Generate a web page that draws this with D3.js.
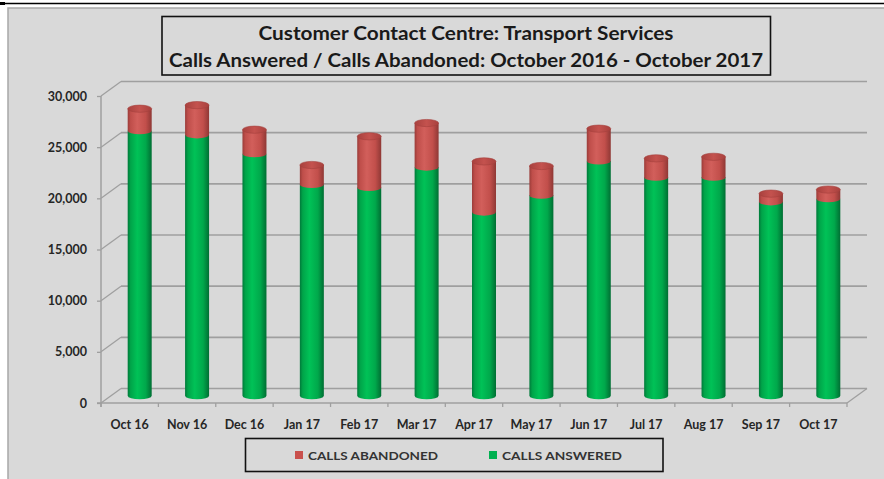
<!DOCTYPE html>
<html>
<head>
<meta charset="utf-8">
<script src="https://cdn.jsdelivr.net/npm/d3@7"></script>
<style>
  html, body { margin: 0; padding: 0; background: #ffffff; }
  svg { display: block; }
  text { font-family: Lato, "Open Sans", "Liberation Sans", sans-serif; }
</style>
</head>
<body>
<svg id="chart" width="884" height="479"></svg>
<script>
const categories = ["Oct 16","Nov 16","Dec 16","Jan 17","Feb 17","Mar 17","Apr 17","May 17","Jun 17","Jul 17","Aug 17","Sep 17","Oct 17"];
const answered  = [25900, 25500, 23650, 20650, 20350, 22350, 17950, 19600, 22950, 21350, 21350, 18950, 19250];
const abandoned = [2150, 2900, 2350, 1900, 5000, 4300, 4950, 2850, 3150, 1850, 2000, 800, 900];
const yTicks = [0, 5000, 10000, 15000, 20000, 25000, 30000];
const titleLines = ["Customer Contact Centre: Transport Services", "Calls Answered / Calls Abandoned: October 2016 - October 2017"];
const seriesNames = ["CALLS ABANDONED", "CALLS ANSWERED"];

const svg = d3.select("#chart");
const W = 884, H = 479;

// frame
svg.append("rect").attr("x", 8).attr("y", 8).attr("width", W - 7).attr("height", H - 7)
  .attr("fill", "#d9d9d9").attr("stroke", "#a8a8a8").attr("stroke-width", 1.5);
svg.append("line").attr("x1", 0).attr("x2", W).attr("y1", 3.5).attr("y2", 3.5)
  .attr("stroke", "#000").attr("stroke-width", 1.5);
svg.append("rect").attr("x", 0).attr("y", 2).attr("width", 5).attr("height", 3).attr("fill", "#000");

// geometry
const depthX = 20, depthY = -14.5;
const x = d3.scaleBand().domain(categories).range([101, 847]);
const y = d3.scaleLinear().domain([0, 30000]).range([403, 96]);
const gridColor = "#9f9f9f";

const walls = svg.append("g");
// back wall gridlines
walls.selectAll(".bg").data(yTicks).join("line")
  .attr("x1", 101 + depthX).attr("x2", 847 + depthX)
  .attr("y1", d => y(d) + depthY).attr("y2", d => y(d) + depthY)
  .attr("stroke", gridColor).attr("stroke-width", 1.6);
// side wall diagonals
walls.selectAll(".sd").data(yTicks).join("line")
  .attr("x1", 101).attr("x2", 101 + depthX)
  .attr("y1", d => y(d)).attr("y2", d => y(d) + depthY)
  .attr("stroke", gridColor).attr("stroke-width", 1.3);
// floor right diagonal
walls.append("line").attr("x1", 847).attr("y1", y(0)).attr("x2", 847 + depthX).attr("y2", y(0) + depthY)
  .attr("stroke", gridColor).attr("stroke-width", 1.3);

// bars
const defs = svg.append("defs");
function grad(id, stops) {
  const g = defs.append("linearGradient").attr("id", id).attr("x1", 0).attr("x2", 1).attr("y1", 0).attr("y2", 0);
  stops.forEach(s => g.append("stop").attr("offset", s[0]).attr("stop-color", s[1]));
}
grad("gGreen", [[0, "#00793a"], [0.12, "#00a449"], [0.4, "#00c257"], [0.75, "#00a84b"], [1, "#006e33"]]);
grad("gRed", [[0, "#9a3c39"], [0.12, "#bf4e4a"], [0.4, "#d25f5b"], [0.75, "#c24f4b"], [1, "#8f3835"]]);
grad("gRedTop", [[0, "#a8413e"], [0.5, "#c4524e"], [1, "#a8413e"]]);

const rx = 12, ry = 3.6;
const cxOf = c => x(c) + x.bandwidth() / 2 + depthX / 2;
const ym = v => y(v) + depthY / 2;
function body(cx, yTop, yBot) {
  return `M${cx - rx},${yTop} L${cx - rx},${yBot} A${rx},${ry} 0 0 0 ${cx + rx},${yBot} L${cx + rx},${yTop} Z`;
}
const rows = categories.map((c, i) => ({ c, a: answered[i], b: abandoned[i] }));
const bars = svg.append("g");
bars.selectAll(".green").data(rows).join("path")
  .attr("d", d => body(cxOf(d.c), ym(d.a), ym(0)))
  .attr("fill", "url(#gGreen)");
bars.selectAll(".red").data(rows).join("path")
  .attr("d", d => body(cxOf(d.c), ym(d.a + d.b), ym(d.a)))
  .attr("fill", "url(#gRed)");
bars.selectAll(".cap").data(rows).join("ellipse")
  .attr("cx", d => cxOf(d.c)).attr("cy", d => ym(d.a + d.b))
  .attr("rx", rx).attr("ry", ry)
  .attr("fill", "url(#gRedTop)").attr("stroke", "#a4403d").attr("stroke-width", 0.6);

// front axis lines
svg.append("line").attr("x1", 101).attr("x2", 101).attr("y1", y(30000)).attr("y2", y(0) + 4)
  .attr("stroke", gridColor).attr("stroke-width", 1.5);
svg.append("line").attr("x1", 97).attr("x2", 847).attr("y1", y(0)).attr("y2", y(0))
  .attr("stroke", gridColor).attr("stroke-width", 1.5);

// y axis
const yAxis = d3.axisLeft(y).tickValues(yTicks).tickFormat(d3.format(",")).tickSize(4).tickPadding(10);
const gy = svg.append("g").attr("transform", "translate(101,0)").call(yAxis);
gy.select(".domain").remove();
gy.selectAll(".tick line").attr("stroke", gridColor).attr("stroke-width", 1.3);
gy.selectAll(".tick text").attr("fill", "#262626").attr("font-size", 12.5).attr("font-weight", 700)
  .attr("font-family", "Lato, sans-serif");

// x axis
const xAxis = d3.axisBottom(x).tickSize(0).tickPadding(17);
const gx = svg.append("g").attr("transform", `translate(0,${y(0)})`).call(xAxis);
gx.select(".domain").remove();
gx.selectAll(".tick text").attr("fill", "#262626").attr("font-size", 12.5).attr("font-weight", 700)
  .attr("font-family", "Lato, sans-serif");
const bounds = categories.map(c => x(c)).concat([x.range()[1]]);
svg.append("g").selectAll("line").data(bounds).join("line")
  .attr("x1", d => d).attr("x2", d => d).attr("y1", y(0)).attr("y2", y(0) + 4)
  .attr("stroke", gridColor).attr("stroke-width", 1.3);

// title
svg.append("rect").attr("x", 162).attr("y", 16.5).attr("width", 608.5).attr("height", 58.5)
  .attr("fill", "none").attr("stroke", "#111").attr("stroke-width", 1.6);
const tl = [{t: titleLines[0], y: 40, w: 415}, {t: titleLines[1], y: 66.5, w: 594}];
svg.selectAll(".title").data(tl).join("text")
  .attr("x", 466).attr("y", d => d.y).attr("text-anchor", "middle")
  .attr("font-size", 18.5).attr("font-weight", 700).attr("fill", "#1a1a1a")
  .attr("textLength", d => d.w).attr("lengthAdjust", "spacingAndGlyphs")
  .text(d => d.t);

// legend
svg.append("rect").attr("x", 245.5).attr("y", 438.5).attr("width", 417.5).attr("height", 33)
  .attr("fill", "none").attr("stroke", "#111").attr("stroke-width", 1.6);
const leg = [{n: seriesNames[0], c: "#c9504c", sx: 295, tw: 130}, {n: seriesNames[1], c: "#00b050", sx: 489, tw: 120}];
const lg = svg.selectAll(".leg").data(leg).join("g");
lg.append("rect").attr("x", d => d.sx).attr("y", 451).attr("width", 8).attr("height", 8).attr("fill", d => d.c);
lg.append("text").attr("x", d => d.sx + 13).attr("y", 459.5)
  .attr("font-size", 12).attr("font-weight", 700).attr("fill", "#333")
  .attr("textLength", d => d.tw).attr("lengthAdjust", "spacingAndGlyphs")
  .text(d => d.n);
</script>
</body>
</html>
